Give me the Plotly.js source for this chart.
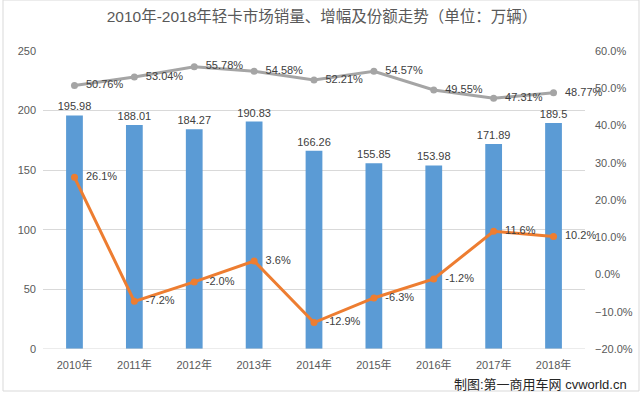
<!DOCTYPE html>
<html>
<head>
<meta charset="utf-8">
<script src="https://cdn.plot.ly/plotly-3.0.1.min.js"></script>
<style>html,body{margin:0;padding:0;background:#fff;}#chart{width:644px;height:396px;}</style>
</head>
<body>
<div id="chart"></div>
<script>
const years = ["2010年","2011年","2012年","2013年","2014年","2015年","2016年","2017年","2018年"];
const sales = [195.98,188.01,184.27,190.83,166.26,155.85,153.98,171.89,189.5];
const growth = [26.1,-7.2,-2.0,3.6,-12.9,-6.3,-1.2,11.6,10.2];
const share = [50.76,53.04,55.78,54.58,52.21,54.57,49.55,47.31,48.77];

const FONT = "Liberation Sans, Noto Sans CJK SC, sans-serif";
const labelFont = {family: FONT, size: 11, color: "#404040"};
const PAD = "\u00a0\u00a0";

const traces = [
  {
    type: "bar", x: years, y: sales, width: 0.28,
    marker: {color: "#5B9BD5"},
    texttemplate: "%{y}", textposition: "outside", textfont: labelFont,
    constraintext: "none", cliponaxis: false, hoverinfo: "skip"
  },
  {
    type: "scatter", mode: "lines+markers+text", x: years, y: share, yaxis: "y2",
    line: {color: "#A5A5A5", width: 3}, marker: {color: "#A5A5A5", size: 7},
    texttemplate: PAD + "%{y:.2f}%", textposition: "middle right", textfont: labelFont,
    cliponaxis: false, hoverinfo: "skip"
  },
  {
    type: "scatter", mode: "lines+markers+text", x: years, y: growth, yaxis: "y2",
    line: {color: "#ED7D31", width: 3}, marker: {color: "#ED7D31", size: 7},
    texttemplate: PAD + "%{y:.1f}%", textposition: "middle right", textfont: labelFont,
    cliponaxis: false, hoverinfo: "skip"
  }
];

const layout = {
  width: 644, height: 396,
  margin: {l: 43, r: 59, t: 51, b: 47},
  paper_bgcolor: "#fff", plot_bgcolor: "#fff",
  showlegend: false,
  font: {family: FONT, color: "#595959", size: 11},
  title: {text: "2010年-2018年轻卡市场销量、增幅及份额走势（单位：万辆）", x: 0.5, xanchor: "center", y: 0.957, yanchor: "middle",
          font: {family: FONT, size: 15.5, color: "#595959"}},
  xaxis: {type: "category", showgrid: false, zeroline: false, showline: false, ticks: "",
          ticklabelstandoff: 8,
          tickfont: {family: FONT, size: 11, color: "#595959"}},
  yaxis: {range: [0, 250], dtick: 50, showgrid: true, gridcolor: "#D9D9D9", gridwidth: 1, zeroline: false,
          showline: false, ticks: "", ticklabelstandoff: 6,
          tickfont: {family: FONT, size: 11, color: "#595959"}},
  yaxis2: {overlaying: "y", side: "right", range: [-20, 60], dtick: 10, tickformat: ".1f", ticksuffix: "%",
           showgrid: false, zeroline: false, showline: false, ticks: "", ticklabelstandoff: 9,
           tickfont: {family: FONT, size: 11, color: "#595959"}},
  shapes: [
    {type: "line", xref: "paper", yref: "y", x0: 0, x1: 1, y0: 0, y1: 0, line: {color: "#D9D9D9", width: 1}},
    {type: "rect", xref: "paper", yref: "paper", x0: -40/542, x1: 596/542, y0: -42/298, y1: 349/298,
     line: {color: "#D9D9D9", width: 1}, fillcolor: "rgba(0,0,0,0)"}
  ],
  annotations: [
    {text: "制图:第一商用车网 cvworld.cn", xref: "paper", yref: "paper", x: 586/542, y: -35/298,
     xanchor: "right", yanchor: "middle", showarrow: false,
     font: {family: FONT, size: 13, color: "#262626"}}
  ]
};

Plotly.newPlot("chart", traces, layout, {staticPlot: true, displayModeBar: false});
</script>
</body>
</html>
